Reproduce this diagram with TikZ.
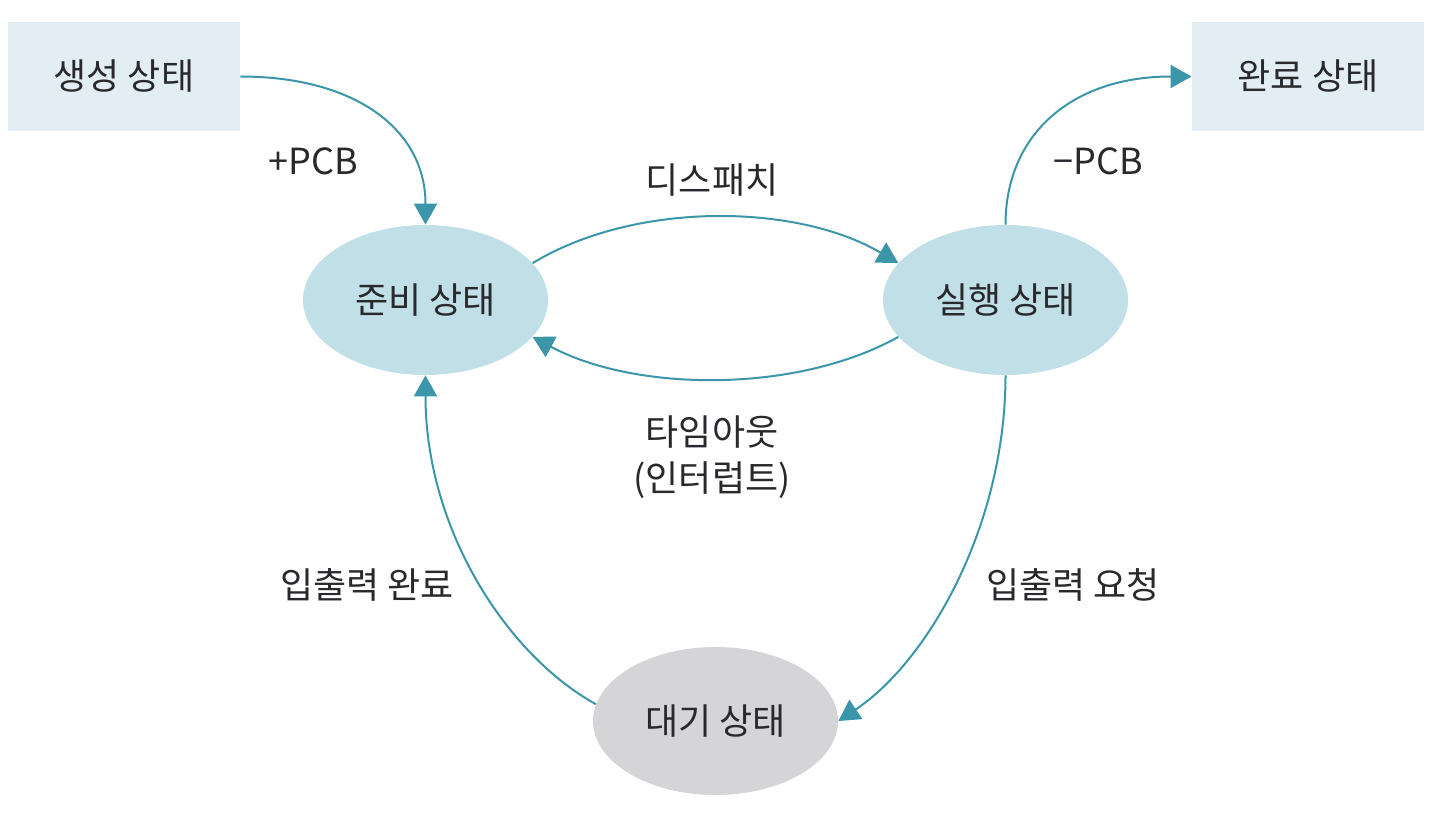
\documentclass[tikz,border=0pt]{standalone}
\usepackage{fontspec}
\setmainfont{Noto Sans CJK KR}
\usetikzlibrary{shapes.geometric,arrows.meta}
\definecolor{boxfill}{RGB}{226,238,243}
\definecolor{ellfill}{RGB}{193,223,230}
\definecolor{waitfill}{RGB}{213,213,215}
\definecolor{arrowc}{RGB}{58,150,168}
\definecolor{txt}{RGB}{40,40,45}
\begin{document}
\begin{tikzpicture}[x=0.5pt,y=-0.5pt,
  every node/.style={font=\fontsize{18}{23}\selectfont, text=txt},
  rectstate/.style={rectangle, fill=boxfill, minimum width=116pt, minimum height=54.5pt, inner sep=0pt},
  ellstate/.style={ellipse, fill=ellfill, minimum width=122.5pt, minimum height=75pt, inner sep=0pt},
  waitstate/.style={ellstate, fill=waitfill, minimum height=74pt},
  conn/.style={draw=arrowc, line width=1pt, -{Triangle[length=10.5pt,width=11.5pt]}},
  lbl/.style={align=center}]
\useasboundingbox (0,0) rectangle (1440,813);
\node[rectstate] (gen) at (124,76.5) {생성 상태};
\node[rectstate] (done) at (1308,76.5) {완료 상태};
\node[ellstate] (ready) at (425.5,300) {준비 상태};
\node[ellstate] (exec) at (1005.5,300) {실행 상태};
\node[waitstate] (wait) at (715.5,721) {대기 상태};

\draw[conn] (gen.east) .. controls +(115,0) and +(0,-95) .. (ready.north);
\draw[conn] (exec.north) .. controls +(0,-90) and +(-120,0) .. (done.west);
\draw[conn] (ready.19) .. controls +(102,-62) and +(-102,-60) .. (exec.161);
\draw[conn] (exec.199) .. controls +(-102,57) and +(102,55) .. (ready.-19);
\draw[conn] (exec.south) .. controls +(0,150) and +(90,-60) .. (wait.east);
\draw[conn] (wait.172) .. controls +(-90,-50) and +(0,153) .. (ready.south);

\node (lplus) at (313,161) {+PCB};
\node (lminus) at (1098,161) {−PCB};
\node (ldisp) at (712,180) {디스패치};
\node[lbl] (ltime) at (712,457) {타임아웃\\(인터럽트)};
\node (lioc) at (367,585) {입출력 완료};
\node (lior) at (1073,585) {입출력 요청};
\end{tikzpicture}
\end{document}
